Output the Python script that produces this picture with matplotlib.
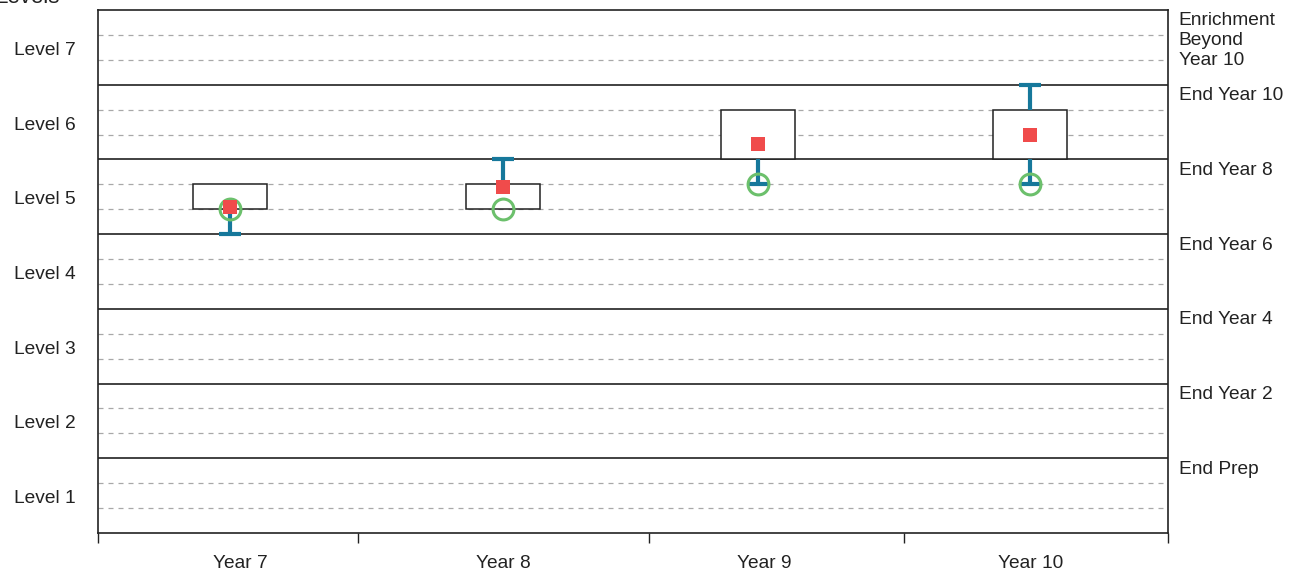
import numpy as np
import matplotlib.pyplot as plt

plt.rcParams["font.family"] = ["Liberation Sans", "DejaVu Sans"]

# data (units: each level = 3 sub-steps, Level 1 spans 0..3)
years = ["Year 7", "Year 8", "Year 9", "Year 10"]
box_low = [13, 13, 15, 15]
box_high = [14, 14, 17, 17]
whisker_low = [12, 13, 14, 14]
whisker_high = [14, 15, 17, 18]
mean_vals = [13.07, 13.9, 15.6, 16.0]
circle_vals = [13, 13, 14, 14]

level_names = ["Level 1", "Level 2", "Level 3", "Level 4", "Level 5", "Level 6", "Level 7"]
stage_names = ["End Prep", "End Year 2", "End Year 4", "End Year 6",
               "End Year 8", "End Year 10", "Enrichment\nBeyond\nYear 10"]

# layout: the original chart spaces its categories a little unevenly
box_pos = [0.493, 1.514, 2.467, 3.484]
label_pos = [0.531, 1.514, 2.49, 3.488]
tick_pos = [0, 0.972, 2.06, 3.013, 4]

teal = "#16789b"
red = "#f04b4b"
green = "#6cc06c"
fs = 13.8

fig = plt.figure(figsize=(13.02, 5.74), dpi=100)
ax = fig.add_axes([98 / 1302, 1 - 533 / 574, (1168 - 98) / 1302, (533 - 10) / 574])

n_levels = len(level_names)
ymax = 3 * n_levels
ax.set_xlim(0, len(years))
ax.set_ylim(0, ymax)

# grid: solid at level boundaries, dashed at thirds
for y in range(1, ymax):
    if y % 3 == 0:
        ax.axhline(y, color="#333333", lw=1.3, zorder=1)
    else:
        ax.axhline(y, color="#a8a8a8", lw=0.9, ls=(0, (4, 4)), zorder=1)

bw = 0.277
cap = 0.041
for x, bl, bh, wl, wh, m, c in zip(box_pos, box_low, box_high, whisker_low,
                                   whisker_high, mean_vals, circle_vals):
    ax.add_patch(plt.Rectangle((x - bw / 2, bl), bw, bh - bl, facecolor="white",
                               edgecolor="#222222", lw=1.1, zorder=2))
    if wl < bl:
        ax.plot([x, x], [wl, bl], color=teal, lw=3, zorder=3, solid_capstyle="butt")
        ax.plot([x - cap, x + cap], [wl, wl], color=teal, lw=3, zorder=3, solid_capstyle="butt")
    if wh > bh:
        ax.plot([x, x], [bh, wh], color=teal, lw=3, zorder=3, solid_capstyle="butt")
        ax.plot([x - cap, x + cap], [wh, wh], color=teal, lw=3, zorder=3, solid_capstyle="butt")
    ax.plot(x, c, marker="o", ms=15, mfc="none", mec=green, mew=2.2, zorder=4)
    ax.plot(x, m, marker="s", ms=9.5, mfc=red, mec=red, mew=0, zorder=5)

# axes styling
for s in ax.spines.values():
    s.set_color("#222222")
    s.set_linewidth(1.2)
ax.set_yticks([])
ax.set_xticks(tick_pos)
ax.set_xticklabels([])
ax.tick_params(axis="x", length=7, width=1, color="#222222", direction="out")
ax.set_xticks(label_pos, minor=True)
ax.set_xticklabels(years, minor=True, fontsize=fs, color="#222222")
ax.tick_params(axis="x", which="minor", length=0, pad=16)

for i, name in enumerate(level_names):
    ax.text(-0.085, 3 * i + 1.38, name, ha="right", va="center", fontsize=fs,
            color="#222222")
for i, name in enumerate(stage_names):
    ax.text(4.04, 3 * (i + 1) - 0.1, name, ha="left", va="top", fontsize=fs,
            color="#222222", linespacing=1.2)

fig.text(-0.004, 1 - 8 / 574, "Levels", ha="left", va="bottom", fontsize=16,
         color="#222222")

fig.savefig("out.png", dpi=100)
